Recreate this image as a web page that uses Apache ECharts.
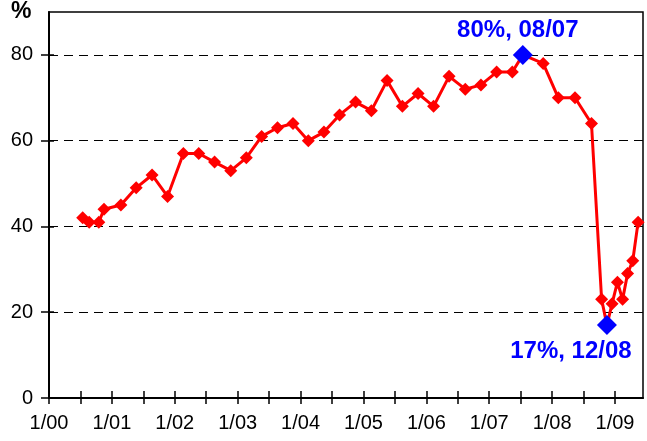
<!DOCTYPE html>
<html>
<head>
<meta charset="utf-8">
<script src="https://cdn.jsdelivr.net/npm/echarts@6/dist/echarts.min.js"></script>
<style>
html,body{margin:0;padding:0;background:#fff;}
#chart{width:647px;height:441px;}
</style>
</head>
<body>
<div id="chart"></div>
<script>
// ---- data ----
const surveyDates = [
  '2000-07-15','2000-08-22','2000-10-17','2000-11-16',
  '2001-02-22','2001-05-22','2001-08-22','2001-11-20',
  '2002-02-20','2002-05-20','2002-08-20','2002-11-22',
  '2003-02-20','2003-05-20','2003-08-20','2003-11-18',
  '2004-02-15','2004-05-16','2004-08-15','2004-11-16',
  '2005-02-16','2005-05-18','2005-08-15','2005-11-14',
  '2006-02-12','2006-05-13','2006-08-15','2006-11-14',
  '2007-02-13','2007-05-15','2007-07-15','2007-11-10',
  '2008-02-06','2008-05-13','2008-08-17','2008-10-15',
  '2008-11-15','2008-12-15','2009-01-15','2009-02-14',
  '2009-03-15','2009-04-14','2009-05-15'
];
const approval = [
  42, 41, 41, 44,
  45, 49, 52, 47,
  57, 57, 55, 53,
  56, 61, 63, 64,
  60, 62, 66, 69,
  67, 74, 68, 71,
  68, 75, 72, 73,
  76, 76, 80, 78,
  70, 70, 64, 23,
  17, 22, 27, 23,
  29, 32, 41
];
const highlightDates = ['2007-07-15', '2008-11-15'];
const highlightValues = [80, 17];
const highlightLabels = ['80%, 08/07', '17%, 12/08'];
const yTickValues = [0, 20, 40, 60, 80];
const xLabelYears = [2000, 2001, 2002, 2003, 2004, 2005, 2006, 2007, 2008, 2009];
const xTickValues = [2000, 2000.5, 2001, 2001.5, 2002, 2002.5, 2003, 2003.5, 2004, 2004.5,
  2005, 2005.5, 2006, 2006.5, 2007, 2007.5, 2008, 2008.5, 2009];
const yUnit = '%';

// ---- helpers ----
function toYear(s) {
  const p = s.split('-').map(Number);
  const t = Date.UTC(p[0], p[1] - 1, p[2]);
  const a = Date.UTC(p[0], 0, 1), b = Date.UTC(p[0] + 1, 0, 1);
  return p[0] + (t - a) / (b - a);
}
function yearLabel(v) {
  const y = Math.round(v);
  if (Math.abs(v - y) > 1e-6) return '';
  return '1/' + String(y % 100).padStart(2, '0');
}

const font = 'Liberation Sans, Arial, sans-serif';
const xMin = 2000, xMax = 2009.445;

const labelPlacement = [
  { position: 'top', offset: [-5, 2] },
  { position: 'bottom', offset: [-36, -1] }
];

const baseX = {
  type: 'value', min: xMin, max: xMax, position: 'bottom',
  splitLine: { show: false },
};
const baseY = {
  type: 'value', min: 0, max: 90, position: 'left',
};

const option = {
  animation: false,
  backgroundColor: '#fff',
  grid: { left: 49, right: 4, top: 12, bottom: 43, show: true, borderColor: '#000', borderWidth: 1.5, backgroundColor: 'transparent' },
  graphic: [{
    type: 'text', left: 11, top: 0,
    style: { text: yUnit, font: 'bold 23px ' + font, fill: '#000' }
  }],
  xAxis: [
    Object.assign({}, baseX, {
      axisLine: { show: true, lineStyle: { color: '#000', width: 2 } },
      axisTick: { show: true, inside: false, length: 6, customValues: xTickValues, lineStyle: { color: '#000', width: 1.5 } },
      axisLabel: { show: true, customValues: xLabelYears, formatter: yearLabel, margin: 15,
        fontFamily: font, fontSize: 20, color: '#000' }
    }),
    Object.assign({}, baseX, {
      axisLine: { show: false },
      axisTick: { show: true, inside: true, length: 7, customValues: xTickValues, lineStyle: { color: '#000', width: 1.5 } },
      axisLabel: { show: false }
    })
  ],
  yAxis: [
    Object.assign({}, baseY, {
      axisLine: { show: true, lineStyle: { color: '#000', width: 2 } },
      axisTick: { show: true, inside: false, length: 8, customValues: yTickValues, lineStyle: { color: '#000', width: 1.5 } },
      axisLabel: { show: true, customValues: yTickValues, margin: 16, fontFamily: font, fontSize: 20, color: '#000' },
      splitLine: { show: true, lineStyle: { color: '#000', width: 1, type: [9, 6] } }
    }),
    Object.assign({}, baseY, {
      axisLine: { show: false },
      axisTick: { show: true, inside: true, length: 5, customValues: yTickValues, lineStyle: { color: '#000', width: 1.5 } },
      axisLabel: { show: false },
      splitLine: { show: false }
    })
  ],
  series: [
    {
      type: 'line',
      xAxisIndex: 0, yAxisIndex: 0,
      data: surveyDates.map((d, i) => [toYear(d), approval[i]]),
      symbol: 'diamond', symbolSize: 13,
      showAllSymbol: true,
      lineStyle: { color: '#ff0000', width: 3 },
      itemStyle: { color: '#ff0000', opacity: 1 },
      z: 3
    },
    {
      type: 'scatter',
      xAxisIndex: 0, yAxisIndex: 0,
      symbol: 'diamond', symbolSize: 20,
      itemStyle: { color: '#0000ff', opacity: 1 },
      label: { show: true, color: '#0000ff', opacity: 1, fontFamily: font, fontWeight: 'bold', fontSize: 24 },
      data: highlightDates.map((d, i) => ({
        value: [toYear(d), highlightValues[i]],
        label: Object.assign({ formatter: highlightLabels[i] }, labelPlacement[i])
      })),
      z: 4
    }
  ]
};

const chart = echarts.init(document.getElementById('chart'), null, { renderer: 'canvas' });
chart.setOption(option);
</script>
</body>
</html>
